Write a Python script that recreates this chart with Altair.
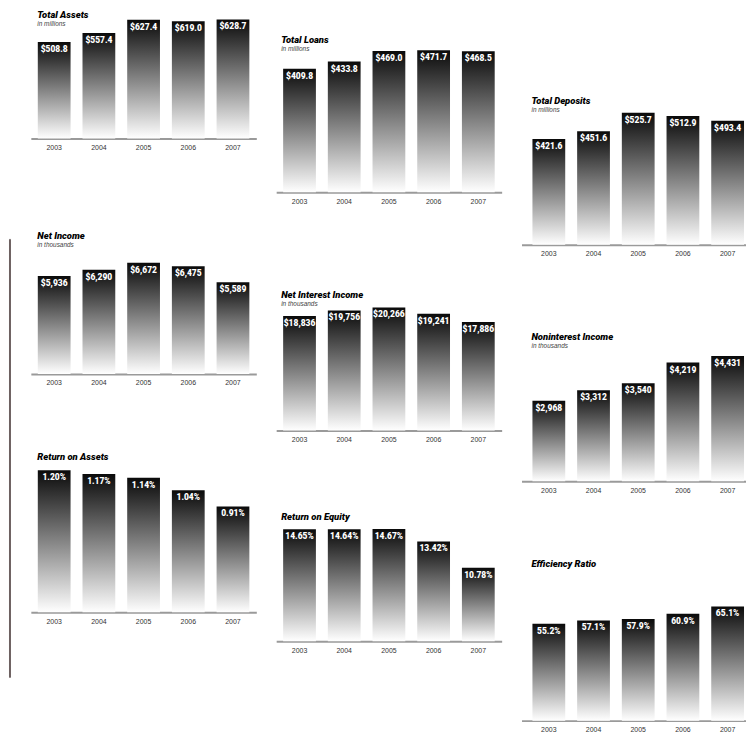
import altair as alt
import pandas as pd

# ---------------- data ----------------
years = ["2003", "2004", "2005", "2006", "2007"]
total_assets = [508.8, 557.4, 627.4, 619.0, 628.7]
total_loans = [409.8, 433.8, 469.0, 471.7, 468.5]
total_deposits = [421.6, 451.6, 525.7, 512.9, 493.4]
net_income = [5936, 6290, 6672, 6475, 5589]
net_interest_income = [18836, 19756, 20266, 19241, 17886]
noninterest_income = [2968, 3312, 3540, 4219, 4431]
return_on_assets = [1.20, 1.17, 1.14, 1.04, 0.91]
return_on_equity = [14.65, 14.64, 14.67, 13.42, 10.78]
efficiency_ratio = [55.2, 57.1, 57.9, 60.9, 65.1]

titles = ["Total Assets", "Total Loans", "Total Deposits",
          "Net Income", "Net Interest Income", "Noninterest Income",
          "Return on Assets", "Return on Equity", "Efficiency Ratio"]
subtitles = ["in millions", "in millions", "in millions",
             "in thousands", "in thousands", "in thousands",
             "", "", ""]


def money1(v):
    return [f"${x:,.1f}" for x in v]


def money0(v):
    return [f"${x:,.0f}" for x in v]


def pct2(v):
    return [f"{x:.2f}%" for x in v]


def pct1(v):
    return [f"{x:.1f}%" for x in v]


series = [
    (total_assets, money1(total_assets)),
    (total_loans, money1(total_loans)),
    (total_deposits, money1(total_deposits)),
    (net_income, money0(net_income)),
    (net_interest_income, money0(net_interest_income)),
    (noninterest_income, money0(noninterest_income)),
    (return_on_assets, pct2(return_on_assets)),
    (return_on_equity, pct2(return_on_equity)),
    (efficiency_ratio, pct1(efficiency_ratio)),
]

# ---------------- layout (page pixel targets) ----------------
MARGIN = 8
LABEL_BAND = 12          # axis line to bottom of year labels
TITLE_FS = 9.5
SUB_FS = 6.5
SUB_PAD = 1.5
BASES = [0, 0, 0, 515, 0, 335, 0.06, 3.4, 0]
# per panel: axis y, top of tallest bar, title centre
AXIS_Y = [137, 191, 244, 374, 431, 482, 614, 643, 723]
TOP_Y = [17, 48, 111, 262, 307, 356, 471, 530, 608]
TITLE_Y = [5, 37, 98, 234, 294, 336, 457, 517, 564]
COL_W = [227, 227, 226]
COL_DX = [6.5, 5, 10]
COL_BAND = [(0.2667, 0.1556, 0.5), (0.2667, 0.1556, 0.5), (0.2667, 0.1444, 0.846)]

FONT_T = "Roboto, Liberation Sans, sans-serif"
FONT_V = "Roboto, Liberation Sans, sans-serif"
FONT_L = "Liberation Sans, Arial, sans-serif"

gradient = alt.Gradient(
    gradient="linear",
    stops=[alt.GradientStop(color="#0a0a0a", offset=0),
           alt.GradientStop(color="#ffffff", offset=1)],
    x1=0, x2=0, y1=0, y2=1,
)


def panel(i, plot_top):
    col = i % 3
    values, labels = series[i]
    base = BASES[i]
    A, T = AXIS_Y[i], TOP_Y[i]
    vmax = max(values)
    height = A - plot_top
    dmax = base + (vmax - base) * (A - plot_top) / (A - T)
    has_sub = subtitles[i] != ""
    block_h = TITLE_FS + ((SUB_PAD + SUB_FS) if has_sub else 0)
    block_top = max(TITLE_Y[i] - 0.43 * TITLE_FS, plot_top)
    offset = plot_top - (block_top + block_h)

    df = pd.DataFrame({"year": years, "value": values, "label": labels,
                       "base": [base] * len(years)})
    pi, po, al = COL_BAND[col]
    x = alt.X("year:N", sort=years,
              scale=alt.Scale(paddingInner=pi, paddingOuter=po, align=al),
              axis=alt.Axis(title=None, labelAngle=0, ticks=False,
                            domainColor="#9a9a9a", domainWidth=2,
                            labelPadding=5, labelFontSize=7, labelFont=FONT_L,
                            labelColor="#333333"))
    y = alt.Y("value:Q", scale=alt.Scale(domain=[base, dmax], nice=False, zero=False),
              axis=None)
    bars = alt.Chart(df).mark_bar(color=gradient).encode(x=x, y=y, y2="base:Q")
    text = alt.Chart(df).mark_text(
        baseline="top", dy=3, color="white", fontWeight=900,
        fontSize=8.5, font=FONT_V,
    ).encode(x=alt.X("year:N", sort=years), y=alt.Y("value:Q"), text="label:N")

    tp = dict(text=titles[i], anchor="start", offset=offset, dx=COL_DX[col],
              font=FONT_T, fontSize=TITLE_FS, fontStyle="italic",
              fontWeight=900, color="#000000")
    if has_sub:
        tp.update(subtitle=subtitles[i], subtitleFont=FONT_L,
                  subtitleFontSize=SUB_FS, subtitleFontStyle="italic",
                  subtitleColor="#444444", subtitlePadding=SUB_PAD)
    return alt.layer(bars, text).properties(
        width=COL_W[col], height=height, title=alt.TitleParams(**tp))


def column(col):
    charts = []
    top = MARGIN
    for row in range(3):
        i = row * 3 + col
        charts.append(panel(i, top))
        top = AXIS_Y[i] + LABEL_BAND
    return alt.vconcat(*charts, spacing=0)


def spacer(h):
    return alt.Chart(pd.DataFrame({"s": [0]})).mark_rule(opacity=0).encode(
        y=alt.value(h / 2)).properties(width=1, height=h)


rule_line = alt.Chart(pd.DataFrame({"s": [0]})).mark_rule(opacity=0).encode(
    y=alt.value(10)).properties(
    width=1, height=441,
    view=alt.ViewBackground(stroke="#6b5f5f", strokeWidth=1))

line_col = alt.vconcat(spacer(229), rule_line, spacing=0)

chart = alt.hconcat(line_col, column(0), column(1), column(2), spacing=20).properties(
    padding=0
).configure_view(stroke=None)

chart.save("out.html", embed_options={"renderer": "svg", "actions": False})
